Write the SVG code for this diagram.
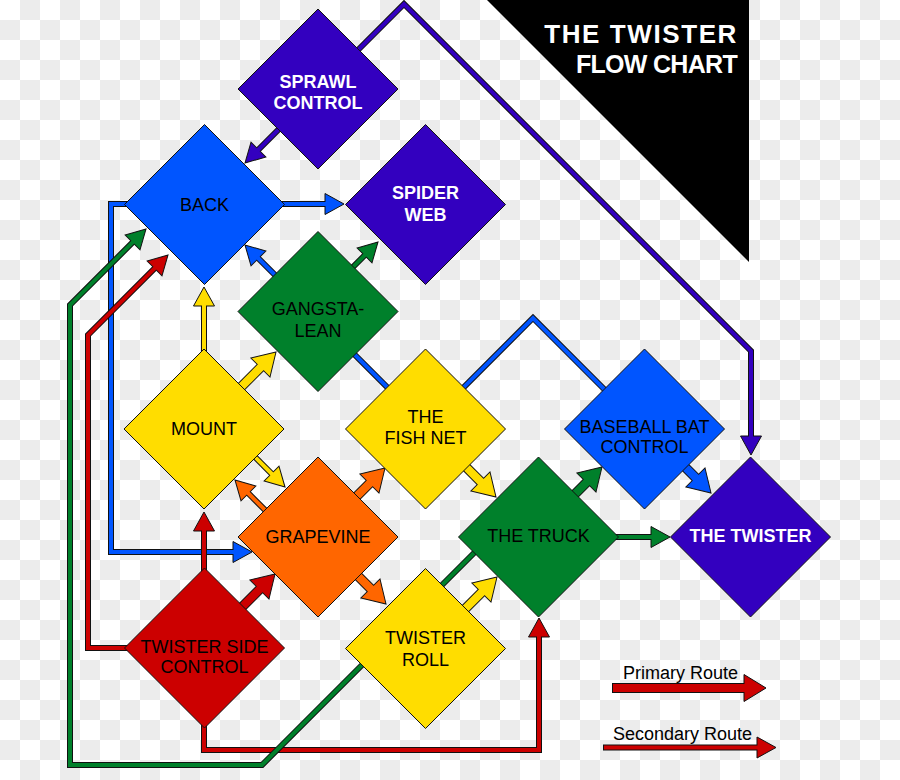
<svg xmlns="http://www.w3.org/2000/svg" xmlns:xlink="http://www.w3.org/1999/xlink" width="900" height="780" viewBox="0 0 900 780">
<defs>
<pattern id="chk" width="40" height="40" patternUnits="userSpaceOnUse">
<rect width="40" height="40" fill="#ffffff"/>
<rect x="20" y="0" width="20" height="20" fill="#ececec"/>
<rect x="0" y="20" width="20" height="20" fill="#ececec"/>
</pattern>
<path id="dia" d="M0,-80L80,0L0,80L-80,0Z"/>
<path id="hs" d="M0,0L-19,-10.5L-19,10.5Z"/>
<path id="hp" d="M0,0L-22,-13.5L-22,13.5Z"/>
<style>
.pu{color:#3300bf}.bl{color:#0055ff}.gr{color:#00802b}.ye{color:#ffdd00}.or{color:#ff6600}.re{color:#cc0000}
.n{fill:currentColor;stroke:#111;stroke-width:1}
.ko{fill:none;stroke:#111;stroke-width:6;stroke-linejoin:miter}
.cs{fill:none;stroke:currentColor;stroke-width:4;stroke-linejoin:miter}
.kp{fill:none;stroke:#111;stroke-width:10}
.cp{fill:none;stroke:currentColor;stroke-width:8}
.hd{fill:currentColor;stroke:#111;stroke-width:1;stroke-linejoin:miter}
.t{font-family:"Liberation Sans",Arial,sans-serif;font-size:18px;text-anchor:middle;fill:#000}
.w{font-weight:bold;fill:#fff}
.ttl{font-family:"Liberation Sans",Arial,sans-serif;font-weight:bold;fill:#fff;text-anchor:end}
.lg{font-family:"Liberation Sans",Arial,sans-serif;font-size:18px;fill:#000}
</style>
</defs>
<rect width="900" height="780" fill="url(#chk)"/>

<g id="connectors">
<!-- long routes -->
<g class="pu" id="sprawl-twister">
<path class="ko" d="M330,78L404,4L751,351V436"/>
<use xlink:href="#hs" class="hd" transform="translate(751,455) rotate(90)"/>
<path class="cs" d="M330,78L404,4L751,351V438"/>
</g>
<g class="bl" id="baseball-back">
<path class="ko" d="M630,415L533,318L425.5,425.5L258.4,258.4"/>
<use xlink:href="#hs" class="hd" transform="translate(245,245) rotate(-135)"/>
<path class="cs" d="M630,415L533,318L425.5,425.5L257,257"/>
</g>
<g class="bl" id="back-grapevine">
<path class="ko" d="M150,204H111V552H233"/>
<use xlink:href="#hs" class="hd" transform="translate(252,552)"/>
<path class="cs" d="M150,204H111V552H235"/>
</g>
<g class="re" id="tsc-back">
<path class="ko" d="M150,648H88V335L154.6,268.4"/>
<use xlink:href="#hs" class="hd" transform="translate(168,255) rotate(-45)"/>
<path class="cs" d="M150,648H88V335L155.6,267.4"/>
</g>
<g class="re" id="tsc-truck">
<path class="ko" d="M204,700V750H539V637"/>
<use xlink:href="#hs" class="hd" transform="translate(539,618) rotate(-90)"/>
<path class="cs" d="M204,700V750H539V635"/>
</g>
<g class="gr" id="truck-back">
<path class="ko" d="M500,527L262,765H70V305L132.6,242.4"/>
<use xlink:href="#hs" class="hd" transform="translate(146,229) rotate(-45)"/>
<path class="cs" d="M500,527L262,765H70V305L133.6,241.4"/>
</g>

<!-- secondary short arrows -->
<g class="bl" transform="translate(344,204)"><path class="ko" d="M-140,0H-19"/><use xlink:href="#hs" class="hd"/><path class="cs" d="M-140,0H-17"/></g>
<g class="pu" transform="translate(245,163) rotate(135)"><path class="ko" d="M-100,0H-19"/><use xlink:href="#hs" class="hd"/><path class="cs" d="M-100,0H-17"/></g>
<g class="gr" transform="translate(378,242) rotate(-45)"><path class="ko" d="M-60,0H-19"/><use xlink:href="#hs" class="hd"/><path class="cs" d="M-60,0H-17"/></g>
<g class="ye" transform="translate(204,287) rotate(-90)"><path class="ko" d="M-90,0H-19"/><use xlink:href="#hs" class="hd"/><path class="cs" d="M-90,0H-17"/></g>
<g class="or" transform="translate(235,480) rotate(-135)"><path class="ko" d="M-60,0H-19"/><use xlink:href="#hs" class="hd"/><path class="cs" d="M-60,0H-17"/></g>
<g class="ye" transform="translate(285,487) rotate(45)"><path class="ko" d="M-60,0H-19"/><use xlink:href="#hs" class="hd"/><path class="cs" d="M-60,0H-17"/></g>
<g class="re" transform="translate(204,512) rotate(-90)"><path class="ko" d="M-120,0H-19"/><use xlink:href="#hs" class="hd"/><path class="cs" d="M-120,0H-17"/></g>
<g class="gr" transform="translate(670,537)"><path class="ko" d="M-130,0H-19"/><use xlink:href="#hs" class="hd"/><path class="cs" d="M-130,0H-17"/></g>

<!-- primary short arrows -->
<g class="ye" transform="translate(276,352) rotate(-45)"><path class="kp" d="M-65,0H-22"/><use xlink:href="#hp" class="hd"/><path class="cp" d="M-65,0H-20"/></g>
<g class="or" transform="translate(385,468) rotate(-45)"><path class="kp" d="M-65,0H-22"/><use xlink:href="#hp" class="hd"/><path class="cp" d="M-65,0H-20"/></g>
<g class="ye" transform="translate(496,497) rotate(45)"><path class="kp" d="M-65,0H-22"/><use xlink:href="#hp" class="hd"/><path class="cp" d="M-65,0H-20"/></g>
<g class="or" transform="translate(386,604) rotate(45)"><path class="kp" d="M-65,0H-22"/><use xlink:href="#hp" class="hd"/><path class="cp" d="M-65,0H-20"/></g>
<g class="ye" transform="translate(497,577) rotate(-45)"><path class="kp" d="M-65,0H-22"/><use xlink:href="#hp" class="hd"/><path class="cp" d="M-65,0H-20"/></g>
<g class="gr" transform="translate(602,467) rotate(-45)"><path class="kp" d="M-65,0H-22"/><use xlink:href="#hp" class="hd"/><path class="cp" d="M-65,0H-20"/></g>
<g class="bl" transform="translate(711,493) rotate(45)"><path class="kp" d="M-65,0H-22"/><use xlink:href="#hp" class="hd"/><path class="cp" d="M-65,0H-20"/></g>
<g class="re" transform="translate(275,574) rotate(-45)"><path class="kp" d="M-65,0H-22"/><use xlink:href="#hp" class="hd"/><path class="cp" d="M-65,0H-20"/></g>
</g>

<g id="nodes">
<g id="sprawl-control"><use xlink:href="#dia" class="n pu" x="318" y="89"/><text class="t w" x="318" y="88">SPRAWL</text><text class="t w" x="318" y="109">CONTROL</text></g>
<g id="back"><use xlink:href="#dia" class="n bl" x="204.5" y="204.5"/><text class="t" x="204.5" y="211">BACK</text></g>
<g id="spider-web"><use xlink:href="#dia" class="n pu" x="425.5" y="204.5"/><text class="t w" x="425.5" y="199">SPIDER</text><text class="t w" x="425.5" y="221">WEB</text></g>
<g id="gangsta-lean"><use xlink:href="#dia" class="n gr" x="318" y="311.5"/><text class="t" x="318" y="315">GANGSTA-</text><text class="t" x="318" y="337">LEAN</text></g>
<g id="mount"><use xlink:href="#dia" class="n ye" x="204" y="429"/><text class="t" x="204" y="435">MOUNT</text></g>
<g id="fish-net"><use xlink:href="#dia" class="n ye" x="425.5" y="429"/><text class="t" x="425.5" y="423">THE</text><text class="t" x="425.5" y="444">FISH NET</text></g>
<g id="baseball-bat-control"><use xlink:href="#dia" class="n bl" x="644.5" y="429"/><text class="t" x="644.5" y="433">BASEBALL BAT</text><text class="t" x="644.5" y="453">CONTROL</text></g>
<g id="grapevine"><use xlink:href="#dia" class="n or" x="318" y="537"/><text class="t" x="318" y="543">GRAPEVINE</text></g>
<g id="the-truck"><use xlink:href="#dia" class="n gr" x="538.5" y="537"/><text class="t" x="538.5" y="542">THE TRUCK</text></g>
<g id="the-twister"><use xlink:href="#dia" class="n pu" x="750.5" y="537"/><text class="t w" x="750.5" y="542">THE TWISTER</text></g>
<g id="twister-side-control"><use xlink:href="#dia" class="n re" x="204.5" y="648"/><text class="t" x="204.5" y="653">TWISTER SIDE</text><text class="t" x="204.5" y="673">CONTROL</text></g>
<g id="twister-roll"><use xlink:href="#dia" class="n ye" x="425.5" y="648.5"/><text class="t" x="425.5" y="644">TWISTER</text><text class="t" x="425.5" y="666">ROLL</text></g>
</g>

<g id="title">
<polygon points="487,0 749,0 749,262" fill="#000"/>
<text class="ttl" x="738" y="43" font-size="26" letter-spacing="1.6">THE TWISTER</text>
<text class="ttl" x="737" y="73" font-size="25" letter-spacing="-0.7">FLOW CHART</text>
</g>

<g id="legend">
<text class="lg" x="623" y="679">Primary Route</text>
<g class="re" transform="translate(766,688)"><path class="kp" d="M-154,0H-22"/><use xlink:href="#hp" class="hd"/><path class="cp" d="M-153,0H-20"/></g>
<text class="lg" x="613" y="740">Secondary Route</text>
<g class="re" transform="translate(776,747.5)"><path class="ko" d="M-173,0H-19"/><use xlink:href="#hs" class="hd"/><path class="cs" d="M-172,0H-17"/></g>
</g>
</svg>
